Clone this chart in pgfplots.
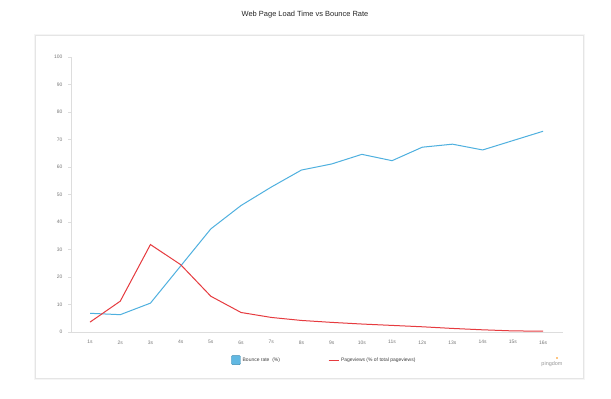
\documentclass[border=0pt]{standalone}
\usepackage{pgfplots}
\pgfplotsset{compat=1.18}
\usepackage{fontspec}
\setmainfont{Liberation Sans}
\definecolor{bblue}{HTML}{4FB0DF}
\definecolor{rred}{HTML}{E63B3F}
\definecolor{axgray}{HTML}{DDDDDD}
\definecolor{txgray}{HTML}{777777}
\begin{document}
\begin{tikzpicture}[x=1bp,y=1bp]
\fill[white] (0,0) rectangle (611,398);
% card with soft shadow
\draw[line width=2bp, black!4] (35,19) rectangle (584,363);
\draw[fill=white, draw=black!10, line width=0.5bp] (35,20) rectangle (583,363);
\node[font=\fontsize{7.5}{9}\selectfont, text=black!85] at (305,383) {Web Page Load Time vs Bounce Rate};
\begin{axis}[
  at={(71bp,66bp)}, anchor=origin,
  scale only axis, width=492bp, height=275bp,
  xmin=0.37, xmax=16.66, ymin=0, ymax=100,
  axis lines=left,
  axis line style={-, draw=axgray, line width=0.8bp},
  xtick={1,...,16},
  xticklabels={1s,2s,3s,4s,5s,6s,7s,8s,9s,10s,11s,12s,13s,14s,15s,16s},
  ytick={0,10,...,100},
  tick align=outside,
  major tick length=3bp,
  tick style={draw=axgray, line width=0.6bp},
  xtick style={draw=none},
  ticklabel style={font=\fontsize{5}{6}\selectfont, text=txgray},
  /pgf/number format/assume math mode=true,
  xticklabel style={yshift=-2bp},
  yticklabel style={xshift=-2bp},
  legend columns=2,
  legend style={at={(0.515,-0.102)}, anchor=center, draw=none, fill=none,
    font=\fontsize{5}{6}\selectfont, text=black!75,
    /tikz/every even column/.append style={column sep=46bp}},
  legend cell align=left,
]
\addplot[color=bblue, line width=1bp,
  legend image code/.code={\draw[fill=bblue!90, draw=bblue!80!black, line width=0.4bp, rounded corners=1bp] (0bp,-4.5bp) rectangle (9bp,4.5bp);}]
  coordinates {(1,6.8) (2,6.3) (3,10.5) (4,24) (5,37.5) (6,46) (7,52.7) (8,58.9) (9,61.1) (10,64.6) (11,62.3) (12,67.2) (13,68.3) (14,66.2) (15,69.6) (16,73)};
\addlegendentry{Bounce rate\ \ (\%)}
\addplot[color=rred, line width=1bp,
  legend image code/.code={\draw[rred, line width=1bp] (0bp,0bp) -- (10bp,0bp);}]
  coordinates {(1,3.6) (2,11.2) (3,31.8) (4,24.5) (5,13) (6,7.1) (7,5.3) (8,4.2) (9,3.5) (10,2.9) (11,2.4) (12,1.9) (13,1.3) (14,0.8) (15,0.4) (16,0.3)};
\addlegendentry{Pageviews (\% of total pageviews)}
\end{axis}
\node[font=\fontsize{5.5}{6}\selectfont, text=black!40] at (552,34) {pingdom};
\fill[orange!90!yellow] (557,40) circle (0.9bp);
\end{tikzpicture}
\end{document}
